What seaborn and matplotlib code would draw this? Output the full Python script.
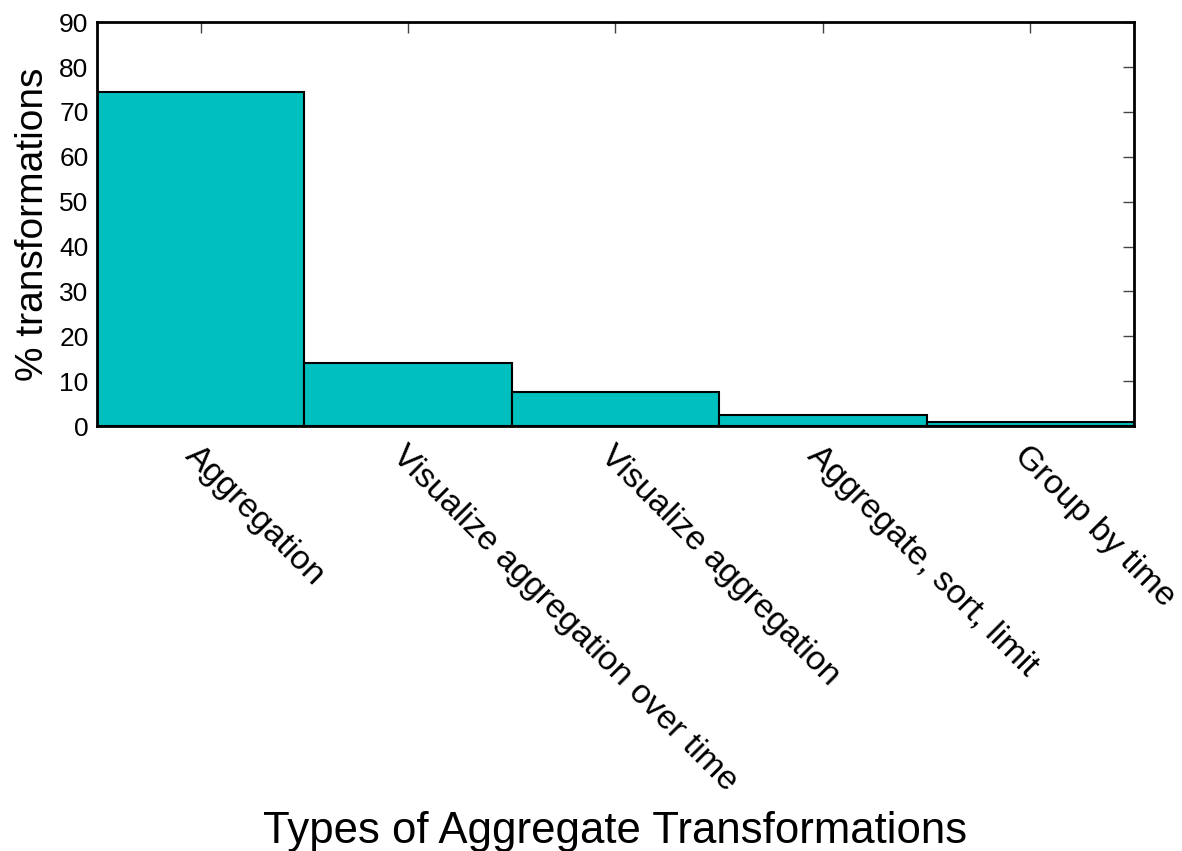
#!/usr/bin/env python3
# -*- coding: utf-8 -*-
"""Bar chart: share of aggregate transformation types."""

import pandas as pd
import matplotlib
matplotlib.use("Agg")
import matplotlib.pyplot as plt
import seaborn as sns

# === data ===
categories = [
    "Aggregation",
    "Visualize aggregation over time",
    "Visualize aggregation",
    "Aggregate, sort, limit",
    "Group by time",
]
percent = [74.5, 14.0, 7.6, 2.5, 1.0]

df = pd.DataFrame({"type": categories, "pct": percent})

# === style ===
sns.set_style("white")
plt.rcParams["font.family"] = ["Liberation Sans", "DejaVu Sans"]
plt.rcParams["text.color"] = "black"
plt.rcParams["axes.labelcolor"] = "black"
plt.rcParams["xtick.color"] = "black"
plt.rcParams["ytick.color"] = "black"
plt.rcParams["xtick.direction"] = "in"
plt.rcParams["ytick.direction"] = "in"

fig, ax = plt.subplots(figsize=(11.82, 8.51), dpi=100)
fig.subplots_adjust(left=0.082, right=0.9594, top=0.974, bottom=0.4994)

sns.barplot(data=df, x="type", y="pct", color="#00BFBF", saturation=1,
            width=1.0, edgecolor="black", linewidth=1.5, ax=ax)

ax.set_xlim(-0.5, len(categories) - 0.5)
ax.set_ylim(0, 90)
ax.set_yticks(range(0, 91, 10))

# 刻度：四边朝内
ax.tick_params(axis="both", which="both", top=True, right=True,
               length=8, width=1, color="#444444", labelcolor="black")
ax.tick_params(axis="y", labelsize=19, pad=6)
ax.tick_params(axis="x", labelsize=24.5, pad=10)
plt.setp(ax.get_xticklabels(), rotation=-45, ha="left",
         rotation_mode="anchor")

for s in ax.spines.values():
    s.set_linewidth(2)
    s.set_color("black")

ax.set_xlabel("Types of Aggregate Transformations", fontsize=31.5, labelpad=10)
ax.set_ylabel("% transformations", fontsize=28, labelpad=6)

fig.savefig("out.png", dpi=100)
plt.close(fig)
